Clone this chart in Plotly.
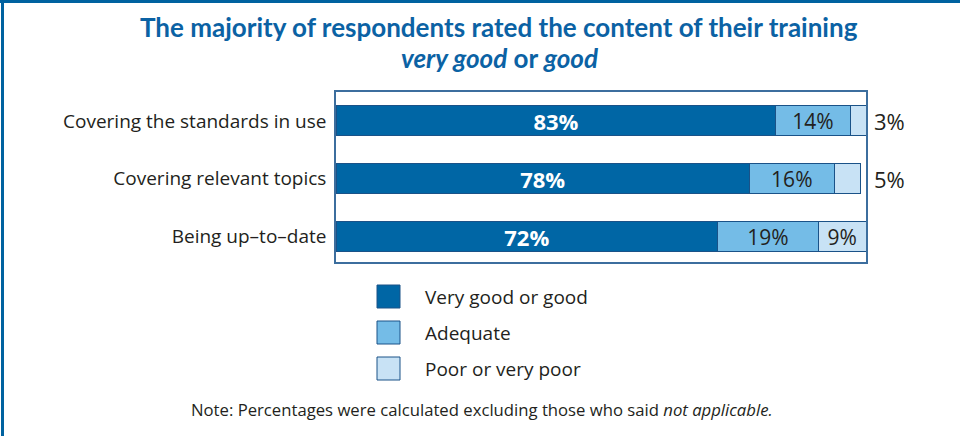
import plotly.graph_objects as go

# Survey results: rating of training content (percent of respondents)
categories = ["Covering the standards in use", "Covering relevant topics", "Being up\u2013to\u2013date"]
series_names = ["Very good or good", "Adequate", "Poor or very poor"]
very_good = [83, 78, 72]
adequate = [14, 16, 19]
poor = [3, 5, 9]
# small "poor" shares are labelled to the right of the chart box
poor_label_outside = [True, True, False]

W, H = 960, 436
DARK = "#0066a5"
MID = "#74bce7"
LIGHT = "#c8e2f5"
OUTLINE = "#1a5288"
TEXT = "#231f20"
TITLE = "#0b62a4"
FONT = "Open Sans"
TITLE_FONT = "Lato"


def px(x):
    return x / W


def py(y):
    return 1 - y / H


fig = go.Figure()
fills = [DARK, MID, LIGHT]
values = [very_good, adequate, poor]
text_fonts = [
    dict(family=FONT, size=22, color="white", weight="bold"),
    dict(family=FONT, size=21, color=TEXT),
    dict(family=FONT, size=21, color=TEXT),
]
for k, (name, vals, col, tf) in enumerate(zip(series_names, values, fills, text_fonts)):
    if k == 2:
        texts = ["" if out else f"{v}%" for v, out in zip(vals, poor_label_outside)]
    else:
        texts = [f"{v}%" for v in vals]
    fig.add_trace(go.Bar(
        y=categories, x=vals, name=name, orientation="h",
        marker=dict(color=col, line=dict(color=OUTLINE, width=1)),
        text=texts, textposition="inside", insidetextanchor="middle",
        constraintext="none", textfont=tf, showlegend=False,
    ))

# labels for the thin "poor" segments, just outside the right edge of the box
for cat, v, out in zip(categories, poor, poor_label_outside):
    if out:
        fig.add_annotation(x=100, y=cat, xref="x", yref="y", showarrow=False,
                           xanchor="left", yanchor="middle", xshift=6,
                           text=f"{v}%", font=dict(family=FONT, size=22, color=TEXT))

fig.update_layout(
    width=W, height=H, margin=dict(l=0, r=0, t=0, b=0),
    paper_bgcolor="white", plot_bgcolor="white",
    barmode="stack", bargap=0.48,
    font=dict(family=FONT, color=TEXT),
    xaxis=dict(domain=[px(336), px(866)], range=[0, 100], showgrid=False, zeroline=False,
               showticklabels=False, showline=True, mirror=True, linecolor="#3c6e9e", linewidth=1.5),
    yaxis=dict(domain=[py(262), py(92)], type="category", categoryorder="array", categoryarray=categories,
               range=[2.44, -0.5], showgrid=False, zeroline=False,
               showline=True, mirror=True, linecolor="#3c6e9e", linewidth=1.5,
               ticks="", ticklabelstandoff=4, tickfont=dict(family=FONT, size=19, color=TEXT)),
)

# Title
fig.add_annotation(x=px(499), y=py(27), xref="paper", yref="paper", showarrow=False,
                   xanchor="center", yanchor="middle",
                   text="<b>The majority of respondents rated the content of their training</b>",
                   font=dict(family=TITLE_FONT, size=26, color=TITLE))
fig.add_annotation(x=px(499), y=py(58), xref="paper", yref="paper", showarrow=False,
                   xanchor="center", yanchor="middle",
                   text="<b><i>very good</i> or <i>good</i></b>",
                   font=dict(family=TITLE_FONT, size=26, color=TITLE))

# Legend drawn as swatches with labels
shapes = []
for i, (name, col) in enumerate(zip(series_names, fills)):
    top = 285 + i * 36
    shapes.append(dict(type="rect", xref="paper", yref="paper",
                       x0=px(377), x1=px(400), y0=py(top + 23), y1=py(top),
                       fillcolor=col, line=dict(color=OUTLINE, width=1)))
    fig.add_annotation(x=px(423), y=py(top + 11.5), xref="paper", yref="paper", showarrow=False,
                       xanchor="left", yanchor="middle", text=name,
                       font=dict(family=FONT, size=19, color=TEXT))

# Note
fig.add_annotation(x=px(482), y=py(409), xref="paper", yref="paper", showarrow=False,
                   xanchor="center", yanchor="middle",
                   text="Note: Percentages were calculated excluding those who said <i>not applicable.</i>",
                   font=dict(family=FONT, size=16.7, color=TEXT))

# Frame lines along the top and left edges
shapes.append(dict(type="rect", xref="paper", yref="paper", x0=0, x1=1, y0=py(3), y1=1,
                   fillcolor="#0062a0", line=dict(width=0)))
shapes.append(dict(type="rect", xref="paper", yref="paper", x0=px(1), x1=px(4), y0=0, y1=1,
                   fillcolor="#0062a0", line=dict(width=0)))
fig.update_layout(shapes=shapes)

fig.write_html("out.html")
